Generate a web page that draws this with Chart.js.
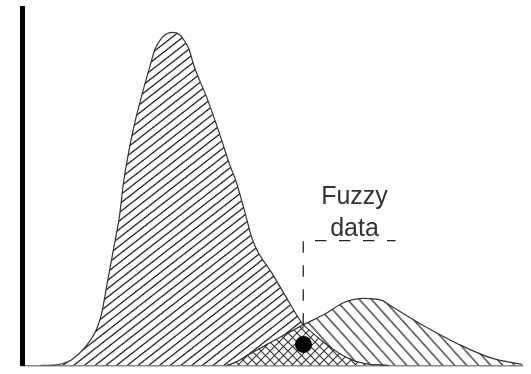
<!DOCTYPE html>
<html><head><meta charset="utf-8">
<script src="https://cdn.jsdelivr.net/npm/chart.js@4"></script>
<style>html,body{margin:0;padding:0;background:#fff;}#wrap{width:531px;height:374px;}</style>
</head><body><div id="wrap"><canvas id="c" width="531" height="374"></canvas></div>
<script>
// Large distribution (left, tall)
const bigX = [3.4, 6.4, 8.4, 9.7, 12.5, 14.7, 15.8, 17.0, 18.2, 19.4, 20.2, 20.8, 22.1, 23.7, 25.5, 26.5, 27.6, 28.6, 30.0, 31.4, 32.2, 33.3, 34.3, 36.9, 39.2, 41.4, 42.8, 44.4, 46.1, 50.1, 53.2, 56.15, 60.5, 65.0, 68.3, 73.3];
const bigY = [0, 0.1, 0.7, 1.5, 5.1, 9.8, 14.4, 23.5, 32.6, 41.9, 51.2, 56.4, 65.8, 74.9, 83.9, 88.6, 91.3, 92.7, 93.3, 92.7, 91.3, 88.6, 83.9, 74.9, 65.8, 56.4, 51.2, 43.3, 34.8, 25.4, 18.0, 11.4, 6.2, 2.1, 0.55, 0];
// Small distribution (right, flat)
const smallX = [40.8, 42.8, 44.7, 49.3, 54.0, 56.15, 60.5, 64.4, 68.3, 71.7, 74.1, 80.6, 87.3, 93.8, 100];
const smallY = [0, 0.96, 2.6, 6.2, 9.75, 11.4, 14.4, 17.7, 18.8, 18.3, 16.3, 10.85, 5.9, 2.06, 0.27];
// Overlap ("fuzzy") region, left and right parts
const overlapLeftX = [40.8, 42.8, 44.7, 49.3, 54.0, 56.15];
const overlapLeftY = [0, 0.96, 2.6, 6.2, 9.75, 11.4];
const overlapRightX = [56.15, 60.5, 65.0, 68.3, 73.3];
const overlapRightY = [11.4, 6.2, 2.1, 0.55, 0];
// Dashed leader line and marker
const guideX = [56.15, 56.15, 74.6];
const guideY = [11.4, 35.0, 35.0];
const dotX = [56.2];
const dotY = [5.9];
const labelLines = ['Fuzzy', 'data'];
const labelX = 66.4;

function pts(xs, ys){ return xs.map((v,i)=>({x:v, y:ys[i]})); }

function hatch(angle, spacing, lw, color, bg){
  const c = document.createElement('canvas'); c.width = 10; c.height = 10;
  const g = c.getContext('2d');
  if (bg){ g.fillStyle = bg; g.fillRect(0,0,10,10); }
  const t = lw*10/spacing;
  g.fillStyle = color; g.fillRect(0, 5 - t/2, 10, t);
  const p = document.getElementById('c').getContext('2d').createPattern(c, 'repeat');
  p.setTransform(new DOMMatrix().rotateSelf(angle).scaleSelf(1, spacing/10));
  return p;
}
function cross(size, lw, color, bg){
  const c = document.createElement('canvas'); c.width = size; c.height = size;
  const g = c.getContext('2d');
  g.fillStyle = bg; g.fillRect(0,0,size,size);
  g.strokeStyle = color; g.lineWidth = lw;
  g.beginPath();
  g.moveTo(-2, size+2); g.lineTo(size+2, -2);
  g.moveTo(-2, -2); g.lineTo(size+2, size+2);
  g.stroke();
  return document.getElementById('c').getContext('2d').createPattern(c, 'repeat');
}

const bigPat = hatch(-38, 6.6, 1.4, '#333');
const smallPat = hatch(48, 8.9, 1.3, '#333');
const crossPat = cross(9, 1.1, '#333', '#fff');

const labelPlugin = {
  id: 'labels',
  afterDatasetsDraw(chart){
    const {ctx, scales:{x, y}} = chart;
    ctx.save();
    ctx.font = '25px "Liberation Sans", Arial, sans-serif';
    ctx.fillStyle = '#333';
    ctx.textAlign = 'center';
    ctx.textBaseline = 'alphabetic';
    const cx = x.getPixelForValue(labelX);
    const by = y.getPixelForValue(guideY[1]);
    ctx.fillText(labelLines[0], cx, by - 37);
    ctx.fillText(labelLines[1], cx, by - 5);
    ctx.restore();
  }
};

new Chart(document.getElementById('c'), {
  type: 'scatter',
  data: {
    datasets: [
      {data: pts(dotX, dotY), order: 0, showLine: false, pointRadius: 8.5, pointBackgroundColor: '#000', pointBorderWidth: 0},
      {data: pts(guideX, guideY), order: 1, showLine: true, tension: 0, borderColor: '#222', borderWidth: 1.3, borderDash: [11.5, 12.5], pointRadius: 0, fill: false},
      {data: pts(overlapLeftX, overlapLeftY), order: 2, showLine: true, cubicInterpolationMode: 'monotone', borderColor: '#333', borderWidth: 1.1, pointRadius: 0, fill: 'origin', backgroundColor: crossPat},
      {data: pts(overlapRightX, overlapRightY), order: 2, showLine: true, cubicInterpolationMode: 'monotone', borderColor: '#333', borderWidth: 1.1, pointRadius: 0, fill: 'origin', backgroundColor: crossPat},
      {data: pts(bigX, bigY), order: 3, showLine: true, cubicInterpolationMode: 'monotone', borderColor: '#333', borderWidth: 1.2, pointRadius: 0, fill: 'origin', backgroundColor: bigPat},
      {data: pts(smallX, smallY), order: 4, showLine: true, cubicInterpolationMode: 'monotone', borderColor: '#333', borderWidth: 1.2, pointRadius: 0, fill: 'origin', backgroundColor: smallPat}
    ]
  },
  options: {
    responsive: false,
    animation: false,
    devicePixelRatio: 1,
    layout: {padding: {left: 22.5, top: 8.5, right: 0, bottom: 1.5}},
    plugins: {legend: {display: false}, tooltip: {enabled: false}},
    scales: {
      x: {type: 'linear', min: 0, max: 100, ticks: {display: false}, grid: {display: false, drawTicks: false}, border: {display: true, color: '#888', width: 1.5}},
      y: {type: 'linear', min: 0, max: 100, ticks: {display: false}, grid: {display: false, drawTicks: false}, border: {display: true, color: '#000', width: 5}}
    }
  },
  plugins: [labelPlugin]
});
</script>
</body></html>
